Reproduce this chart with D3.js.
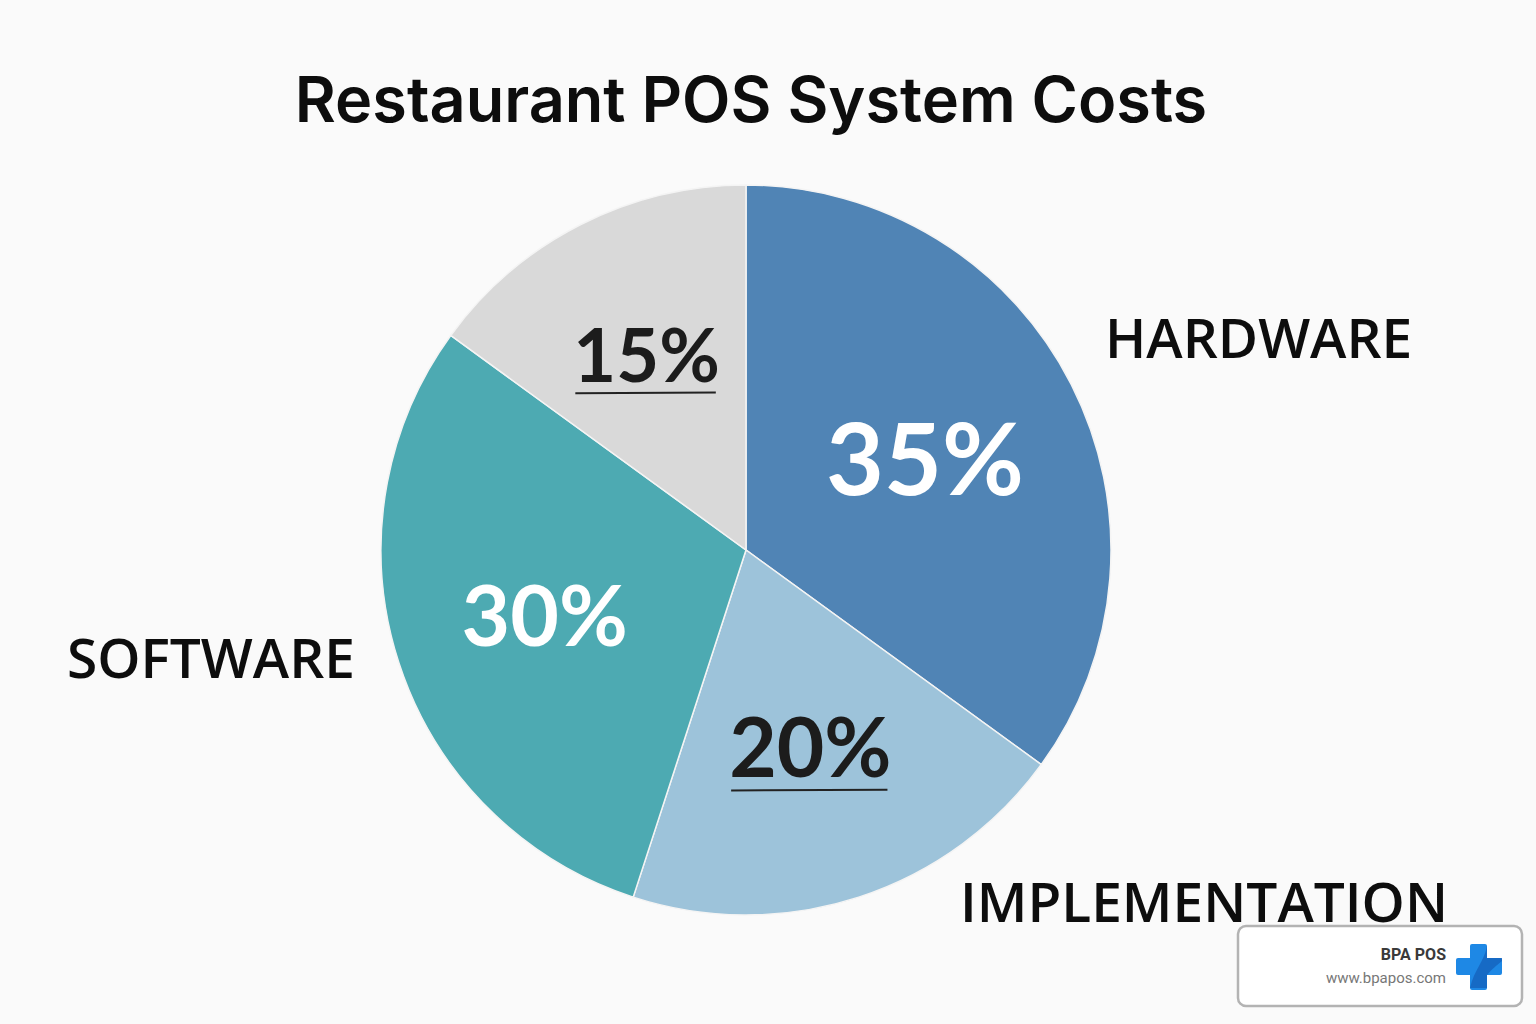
<!DOCTYPE html>
<html><head><meta charset="utf-8">
<script src="https://cdn.jsdelivr.net/npm/d3@7"></script>
<style>html,body{margin:0;padding:0;background:#fafafa;}svg{display:block;}</style>
</head><body>
<svg id="c" width="1536" height="1024"></svg>
<script>
const categories = ["HARDWARE", "IMPLEMENTATION", "SOFTWARE", "OTHER"];
const values = [35, 20, 30, 15];
const colors = ["#5084b5", "#9dc3da", "#4daab2", "#d9d9d9"];
const labelColors = ["#ffffff", "#1c1c1c", "#ffffff", "#1c1c1c"];
const showCategory = [true, true, true, false];
const title = "Restaurant POS System Costs";

const svg = d3.select("#c");
svg.append("rect").attr("width",1536).attr("height",1024).attr("fill","#fafafa");

svg.append("text").attr("x",751).attr("y",122).attr("text-anchor","middle")
  .attr("font-family","Inter, 'Open Sans', sans-serif").attr("font-weight",600)
  .attr("font-size",63).attr("fill","#0d0d0d").text(title);

const cx = 746, cy = 550, R = 365;
const pie = d3.pie().sort(null).value(d=>d);
const arcs = pie(values);
const arc = d3.arc().innerRadius(0).outerRadius(R);
const lblR = [0.55, 0.57, 0.58, 0.6];
const g = svg.append("g").attr("transform",`translate(${cx},${cy})`);
g.selectAll("path").data(arcs).join("path")
  .attr("d",arc).attr("fill",(d,i)=>colors[i])
  .attr("stroke","#f4f4f4").attr("stroke-width",1.5);

const fs = [100, 82, 84, 74];
arcs.forEach((a,i)=>{
  const la = d3.arc().innerRadius(R*lblR[i]).outerRadius(R*lblR[i]);
  const [x,y] = la.centroid(a);
  const t = g.append("text").attr("x",x).attr("y",y).attr("text-anchor","middle")
    .attr("dy","0.36em").attr("font-family","Lato, Inter, sans-serif").attr("font-weight",700)
    .attr("font-size",fs[i]).attr("fill",labelColors[i]).text(values[i]+"%");
  if (labelColors[i] !== "#ffffff") {
    const w = t.node().getComputedTextLength();
    g.append("line").attr("x1",x-w/2+2).attr("x2",x+w/2-4)
      .attr("y1",y+fs[i]*0.52).attr("y2",y+fs[i]*0.51)
      .attr("stroke","#222").attr("stroke-width",2);
  }
});

// category labels outside
const outPos = [[1105,358,"start"],[960,922,"start"],[355,678,"end"]];
categories.forEach((c,i)=>{
  if(!showCategory[i]) return;
  const p = outPos[i];
  svg.append("text").attr("x",p[0]).attr("y",p[1]).attr("text-anchor",p[2])
    .attr("font-family","'Open Sans', 'Noto Sans', sans-serif").attr("font-weight",600)
    .attr("font-size",55).attr("fill","#0d0d0d").text(c);
});

// watermark
const wm = svg.append("g");
wm.append("rect").attr("x",1238).attr("y",926).attr("width",284).attr("height",80).attr("rx",8)
  .attr("fill","#ffffff").attr("stroke","#b3b3b3").attr("stroke-width",2.5);
wm.append("text").attr("x",1446).attr("y",960).attr("text-anchor","end")
  .attr("font-family","Roboto, sans-serif").attr("font-weight",700).attr("font-size",16)
  .attr("fill","#3a3a3a").text("BPA POS");
wm.append("text").attr("x",1446).attr("y",983).attr("text-anchor","end")
  .attr("font-family","Roboto, sans-serif").attr("font-size",15)
  .attr("fill","#777").text("www.bpapos.com");
const ic = wm.append("g").attr("transform","translate(1456,944)");
ic.append("rect").attr("x",14).attr("y",0).attr("width",17).attr("height",46).attr("rx",2).attr("fill","#1e88e5");
ic.append("rect").attr("x",0).attr("y",14).attr("width",46).attr("height",17).attr("rx",2).attr("fill","#1e88e5");
ic.append("path").attr("d","M31,2 C28,18 18,26 14,44 L31,44 L31,31 C36,25 40,22 46,17 L46,14 L31,14 Z").attr("fill","#1565c0").attr("opacity",0.85);
</script>
</body></html>
